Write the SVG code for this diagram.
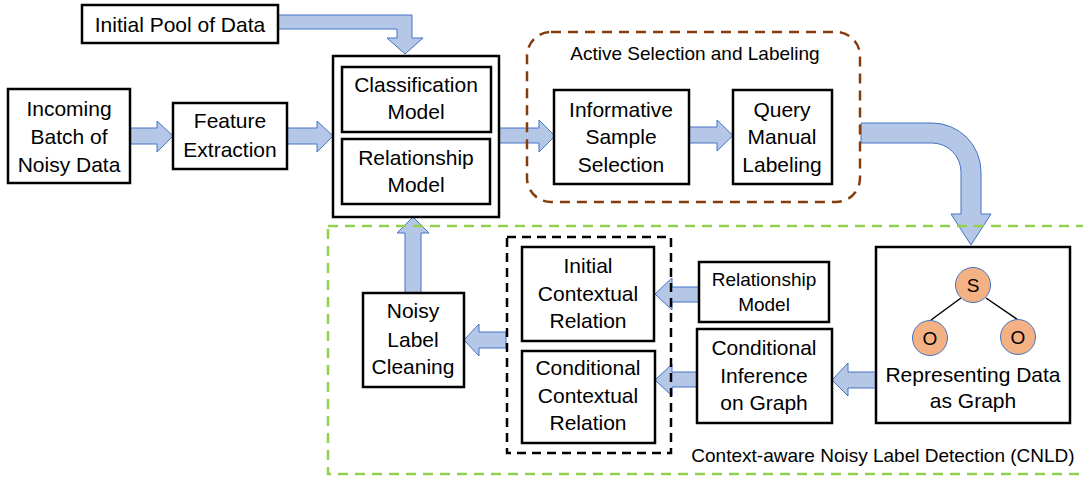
<svg xmlns="http://www.w3.org/2000/svg" width="1083" height="478" viewBox="0 0 1083 478">
<style>
  .box { fill: #ffffff; stroke: #000000; stroke-width: 2.5; }
  .t { font-family: "Liberation Sans", Arial, sans-serif; font-size: 21px; fill: #000000; text-anchor: middle; }
  .ts { font-family: "Liberation Sans", Arial, sans-serif; font-size: 19px; fill: #000000; text-anchor: middle; }
  .arrow { fill: #B4C7E7; stroke: #4472C4; stroke-width: 1; stroke-linejoin: miter; }
  .node { fill: #F4B183; stroke: #4472C4; stroke-width: 1; }
  .edge { stroke: #000000; stroke-width: 1.5; }
</style>
<rect width="1083" height="478" fill="#ffffff"/>

<g id="connectors">
  <polygon class="arrow" points="277,15 412,15 412,38 423,38 405,54 387,38 397,38 397,29 277,29"/>
  <polygon class="arrow" points="130,128 157,128 157,121 173,136 157,152 157,144 130,144"/>
  <polygon class="arrow" points="287,128 317,128 317,121 333,136 317,152 317,144 287,144"/>
  <polygon class="arrow" points="499,128 539,128 539,120 555,136 539,152 539,143 499,143"/>
  <polygon class="arrow" points="689,127 717,127 717,120 733,135.5 717,151 717,143 689,143"/>
  <path class="arrow" d="M861,123 L932,123 A49,49 0 0 1 981,172 L981,214 L991,214 L971,245 L951,214 L961,214 L961,172 A29,29 0 0 0 932,143 L861,143 Z"/>
  <polygon class="arrow" points="876,372 848,372 848,363 832,380 848,396 848,388 876,388"/>
  <polygon class="arrow" points="699,287 672,287 672,278 655,294 672,310 672,302 699,302"/>
  <polygon class="arrow" points="697,372 672,372 672,364 655,380 672,396 672,387 697,387"/>
  <polygon class="arrow" points="506,332 479,332 479,324 464,340 479,356 479,348 506,348"/>
  <polygon class="arrow" points="405,293 405,233 397,233 413,217 429,233 421,233 421,293"/>
</g>

<g id="active-selection-group">
  <rect x="527" y="32" width="333" height="170" rx="24" ry="24" fill="none" stroke="#843C0C" stroke-width="2.5" stroke-dasharray="10,7"/>
  <text class="ts" x="695" y="60">Active Selection and Labeling</text>
</g>

<g id="cnld-group">
  <rect x="328" y="226" width="770" height="248" fill="none" stroke="#92D050" stroke-width="2.5" stroke-dasharray="10,7"/>
  <text class="ts" x="883" y="462">Context-aware Noisy Label Detection (CNLD)</text>
</g>

<g id="contextual-group">
  <rect x="507" y="237" width="164" height="216" fill="none" stroke="#000000" stroke-width="2.5" stroke-dasharray="9,6"/>
</g>

<g id="initial-pool">
  <rect class="box" x="82" y="5" width="196" height="38"/>
  <text class="t" x="180" y="32">Initial Pool of Data</text>
</g>

<g id="incoming-batch">
  <rect class="box" x="8" y="89" width="122" height="94"/>
  <text class="t" x="69" y="116">Incoming</text>
  <text class="t" x="69" y="144">Batch of</text>
  <text class="t" x="69" y="172">Noisy Data</text>
</g>

<g id="feature-extraction">
  <rect class="box" x="173" y="103" width="114" height="66"/>
  <text class="t" x="230" y="128">Feature</text>
  <text class="t" x="230" y="157">Extraction</text>
</g>

<g id="models">
  <rect class="box" x="333" y="56" width="166" height="161" stroke-width="3"/>
</g>

<g id="classification-model">
  <rect class="box" x="342" y="67" width="149" height="65"/>
  <text class="t" x="416" y="92">Classification</text>
  <text class="t" x="416" y="119">Model</text>
</g>

<g id="relationship-model">
  <rect class="box" x="342" y="139" width="148" height="65"/>
  <text class="t" x="416" y="165">Relationship</text>
  <text class="t" x="416" y="192">Model</text>
</g>

<g id="informative-sample-selection">
  <rect class="box" x="554" y="90" width="135" height="94"/>
  <text class="t" x="621" y="117">Informative</text>
  <text class="t" x="621" y="144">Sample</text>
  <text class="t" x="621" y="172">Selection</text>
</g>

<g id="query-manual-labeling">
  <rect class="box" x="733" y="90" width="99" height="94"/>
  <text class="t" x="782" y="117">Query</text>
  <text class="t" x="782" y="144">Manual</text>
  <text class="t" x="782" y="172">Labeling</text>
</g>

<g id="representing-data-as-graph">
  <rect class="box" x="876" y="247" width="194" height="176"/>
  <line class="edge" x1="961" y1="298" x2="931" y2="320"/>
  <line class="edge" x1="986" y1="298" x2="1018" y2="320"/>
  <circle class="node" cx="973" cy="285" r="17.5"/>
  <circle class="node" cx="930" cy="338" r="17.5"/>
  <circle class="node" cx="1018" cy="337" r="17.5"/>
  <text class="ts" x="973" y="292">S</text>
  <text class="ts" x="930" y="345">O</text>
  <text class="ts" x="1018" y="344">O</text>
  <text class="t" x="973" y="382">Representing Data</text>
  <text class="t" x="973" y="408">as Graph</text>
</g>

<g id="relationship-model-2">
  <rect class="box" x="699" y="262" width="130" height="60"/>
  <text class="ts" x="764" y="286">Relationship</text>
  <text class="ts" x="764" y="311">Model</text>
</g>

<g id="conditional-inference">
  <rect class="box" x="697" y="329" width="135" height="94"/>
  <text class="t" x="764" y="355">Conditional</text>
  <text class="t" x="764" y="383">Inference</text>
  <text class="t" x="764" y="410">on Graph</text>
</g>

<g id="initial-contextual-relation">
  <rect class="box" x="522" y="247" width="132" height="94"/>
  <text class="t" x="588" y="273">Initial</text>
  <text class="t" x="588" y="301">Contextual</text>
  <text class="t" x="588" y="328">Relation</text>
</g>

<g id="conditional-contextual-relation">
  <rect class="box" x="522" y="351" width="133" height="92"/>
  <text class="t" x="588" y="375">Conditional</text>
  <text class="t" x="588" y="403">Contextual</text>
  <text class="t" x="588" y="430">Relation</text>
</g>

<g id="noisy-label-cleaning">
  <rect class="box" x="363" y="293" width="101" height="94"/>
  <text class="t" x="413" y="318">Noisy</text>
  <text class="t" x="413" y="347">Label</text>
  <text class="t" x="413" y="374">Cleaning</text>
</g>
</svg>
